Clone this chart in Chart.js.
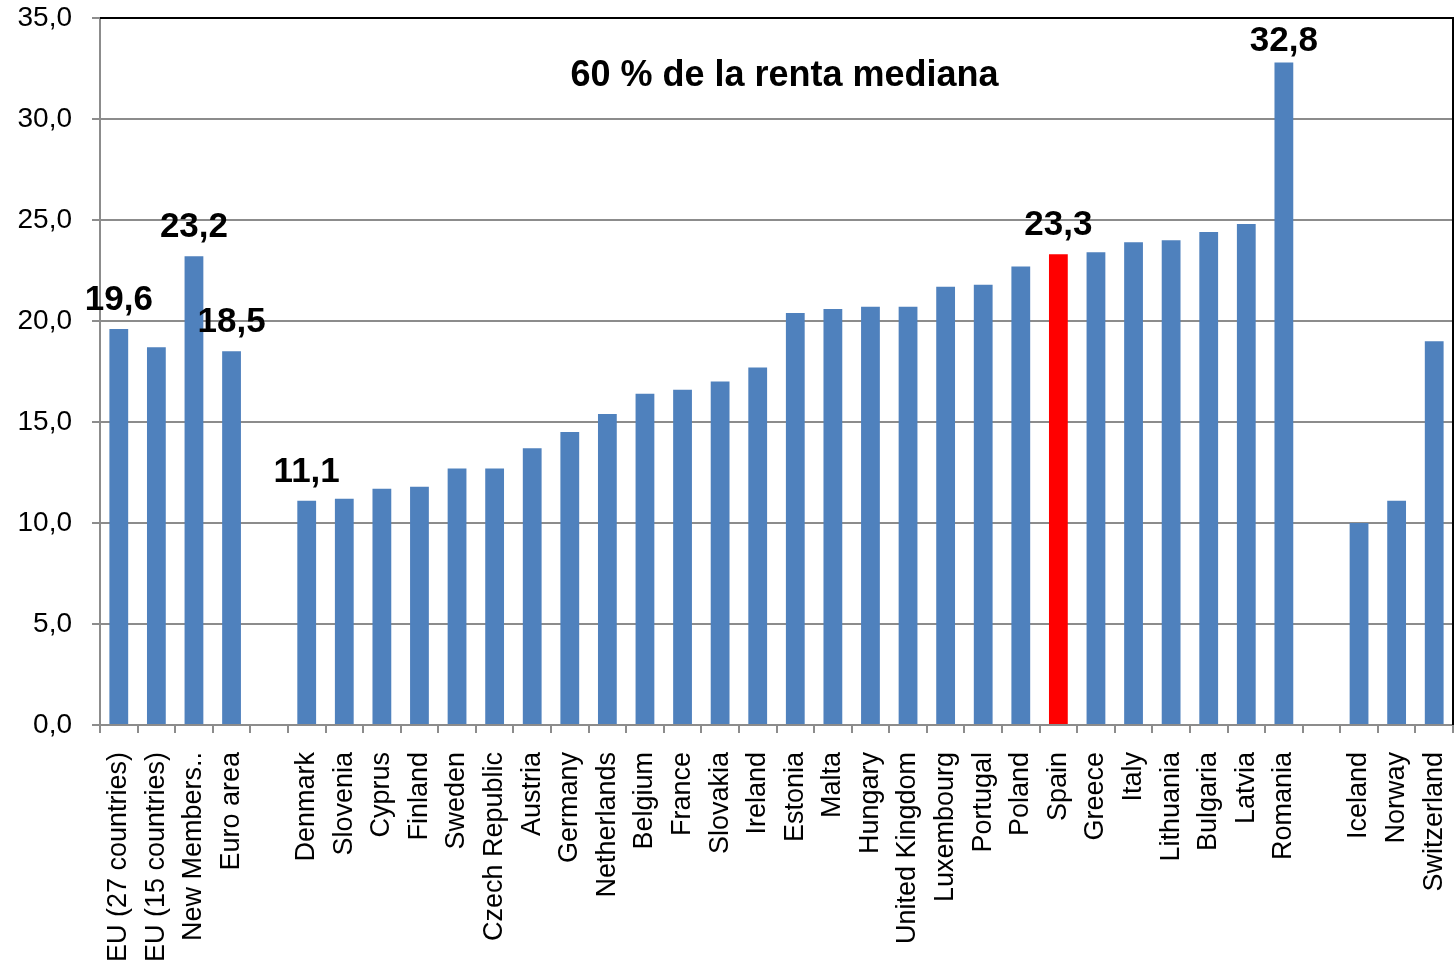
<!DOCTYPE html>
<html>
<head>
<meta charset="utf-8">
<script src="https://cdn.jsdelivr.net/npm/chart.js@4.4.0/dist/chart.umd.min.js"></script>
<style>
  body { margin: 0; background: #fff; }
  #wrap { width: 1456px; height: 967px; }
</style>
</head>
<body>
<div id="wrap"><canvas id="chart" width="1456" height="967"></canvas></div>
<script>
// categories ('' = empty slot used as a gap, like in the original sheet)
const categories = [
  'EU (27 countries)', 'EU (15 countries)', 'New Members..', 'Euro area', '',
  'Denmark', 'Slovenia', 'Cyprus', 'Finland', 'Sweden', 'Czech Republic', 'Austria',
  'Germany', 'Netherlands', 'Belgium', 'France', 'Slovakia', 'Ireland', 'Estonia',
  'Malta', 'Hungary', 'United Kingdom', 'Luxembourg', 'Portugal', 'Poland', 'Spain',
  'Greece', 'Italy', 'Lithuania', 'Bulgaria', 'Latvia', 'Romania', '',
  'Iceland', 'Norway', 'Switzerland'
]
const values = [
  19.6, 18.7, 23.2, 18.5, null,
  11.1, 11.2, 11.7, 11.8, 12.7, 12.7, 13.7,
  14.5, 15.4, 16.4, 16.6, 17.0, 17.7, 20.4,
  20.6, 20.7, 20.7, 21.7, 21.8, 22.7, 23.3,
  23.4, 23.9, 24.0, 24.4, 24.8, 32.8, null,
  10.0, 11.1, 19.0
]
const yTicks = [0, 5, 10, 15, 20, 25, 30, 35]
const labelled = ['EU (27 countries)', 'New Members..', 'Euro area', 'Denmark', 'Spain', 'Romania']
const highlight = 'Spain'
const title = '60 % de la renta mediana'

const FONT = "'Liberation Sans', Arial, sans-serif"
const fmt = v => v.toFixed(1).replace('.', ',')

// scales should not reserve extra room for overhanging labels
const noPad = s => { s.paddingTop = 0; s.paddingBottom = 0; s.paddingLeft = 0; s.paddingRight = 0 }

// value labels above selected bars + the title inside the plot + black frame top/right
const extras = {
  id: 'extras',
  afterDatasetsDraw(chart) {
    const { ctx, chartArea } = chart
    const meta = chart.getDatasetMeta(0)
    ctx.save()
    ctx.fillStyle = '#000'
    ctx.font = 'bold 35px ' + FONT
    ctx.textAlign = 'center'
    ctx.textBaseline = 'alphabetic'
    categories.forEach((c, i) => {
      if (!labelled.includes(c)) return
      const bar = meta.data[i]
      const y = Math.max(bar.y - 19, chartArea.top + 33)
      ctx.fillText(fmt(values[i]), bar.x, y)
    })

    ctx.font = 'bold 36px ' + FONT
    ctx.fillText(title, (chartArea.left + chartArea.right) / 2 + 8, chartArea.top + 68)

    ctx.strokeStyle = '#000'
    ctx.lineWidth = 2
    ctx.beginPath()
    ctx.moveTo(chartArea.left, chartArea.top)
    ctx.lineTo(chartArea.right, chartArea.top)
    ctx.lineTo(chartArea.right, chartArea.bottom)
    ctx.stroke()
    ctx.restore()
  }
}

new Chart(document.getElementById('chart'), {
  type: 'bar',
  data: {
    labels: categories,
    datasets: [{
      data: values,
      backgroundColor: categories.map(c => c === highlight ? '#FF0000' : '#4F81BD'),
      categoryPercentage: 1,
      barPercentage: 0.5
    }]
  },
  options: {
    responsive: false,
    animation: false,
    layout: { padding: { top: 18, right: 3, left: 0, bottom: 0 } },
    plugins: {
      legend: { display: false },
      tooltip: { enabled: false }
    },
    scales: {
      x: {
        afterFit: s => { s.height = 242; noPad(s) },
        grid: {
          offset: true,
          drawOnChartArea: false,
          color: '#8c8c8c',
          lineWidth: 2,
          tickLength: 8
        },
        border: { color: '#8c8c8c', width: 2 },
        ticks: {
          autoSkip: false,
          maxRotation: 90,
          minRotation: 90,
          padding: 19,
          color: '#000',
          font: { family: FONT, size: 27 }
        }
      },
      y: {
        min: 0,
        max: 35,
        afterFit: s => { s.width = 100; noPad(s) },
        afterBuildTicks: s => { s.ticks = yTicks.map(v => ({ value: v })) },
        grid: { color: '#8c8c8c', lineWidth: 2, tickLength: 8 },
        border: { color: '#8c8c8c', width: 2 },
        ticks: {
          padding: 20,
          color: '#000',
          font: { family: FONT, size: 28 },
          callback: v => fmt(v)
        }
      }
    }
  },
  plugins: [extras]
})
</script>
</body>
</html>
